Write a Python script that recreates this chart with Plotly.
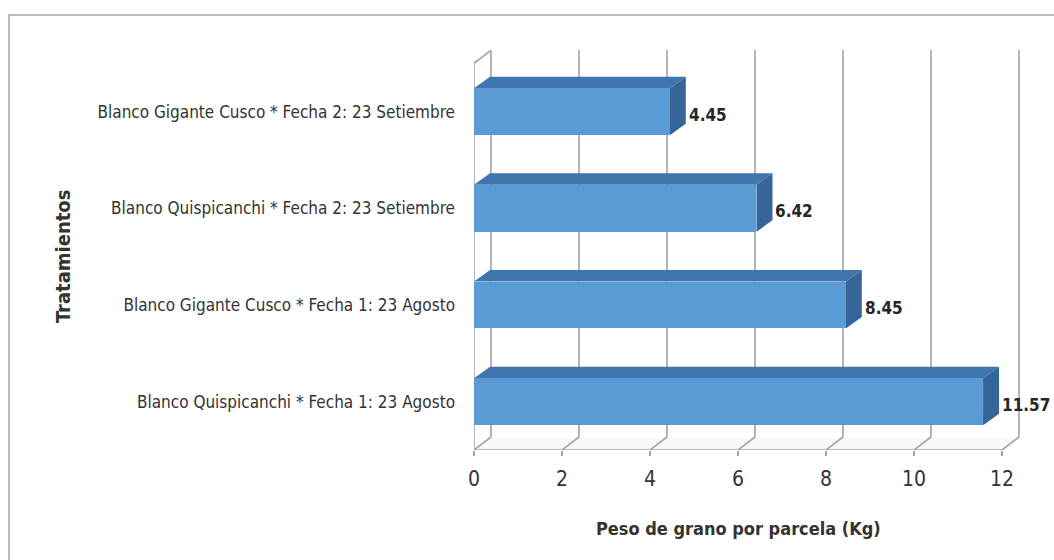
import plotly.graph_objects as go

# Treatments, bottom to top as drawn
tratamientos = [
    "Blanco Quispicanchi * Fecha 1: 23 Agosto",
    "Blanco Gigante Cusco * Fecha 1: 23 Agosto",
    "Blanco Quispicanchi * Fecha 2: 23 Setiembre",
    "Blanco Gigante Cusco * Fecha 2: 23 Setiembre",
]
peso = [11.57, 8.45, 6.42, 4.45]
x_ticks = [0, 2, 4, 6, 8, 10, 12]

# Geometry of the pseudo-3D box (in data units)
W, H = 1054, 560
M_L, M_R, M_T, M_B = 474, 30, 44, 110
X_RANGE = [0, 12.5]
Y_RANGE = [-0.5, 3.7]
PLOT_W = W - M_L - M_R
PLOT_H = H - M_T - M_B
px_x = PLOT_W / (X_RANGE[1] - X_RANGE[0])
px_y = PLOT_H / (Y_RANGE[1] - Y_RANGE[0])
WALL_DX, WALL_DY = 17 / px_x, 13 / px_y
BAR_DX, BAR_DY = 16 / px_x, 11.5 / px_y
HALF = 0.243
Y_LO, Y_HI = -0.5, 3.5

FRONT = "#5B9BD5"
TOP = "#3F76AD"
SIDE = "#34669A"
GRID = "#a3a3a3"
TEXT = "#333333"
FONT = "Liberation Sans Narrow, Arial Narrow, DejaVu Sans Condensed, sans-serif"

shapes = []

def seg(x0, y0, x1, y1, color=GRID, width=1.6):
    shapes.append(dict(type="line", xref="x", yref="y", x0=x0, y0=y0, x1=x1, y1=y1,
                       line=dict(color=color, width=width), layer="below"))

def poly(points, fill):
    path = "M " + " L ".join(f"{px},{py}" for px, py in points) + " Z"
    shapes.append(dict(type="path", xref="x", yref="y", path=path, fillcolor=fill,
                       line=dict(width=0), layer="below"))

# floor
poly([(0, Y_LO), (x_ticks[-1], Y_LO), (x_ticks[-1] + WALL_DX, Y_LO + WALL_DY), (WALL_DX, Y_LO + WALL_DY)],
     "#f9f9f9")
# back wall grid lines and floor slants
for t in x_ticks:
    seg(t, Y_LO, t + WALL_DX, Y_LO + WALL_DY)
    seg(t + WALL_DX, Y_LO + WALL_DY, t + WALL_DX, Y_HI + WALL_DY)
# front floor edge and left wall edges
seg(0, Y_LO, x_ticks[-1], Y_LO)
seg(0, Y_LO, 0, Y_HI)
seg(0, Y_HI, WALL_DX, Y_HI + WALL_DY)

# bar top and side faces
for k, v in enumerate(peso):
    top = k + HALF
    bot = k - HALF
    poly([(0, top), (v, top), (v + BAR_DX, top + BAR_DY), (BAR_DX, top + BAR_DY)], TOP)
    poly([(v, bot), (v, top), (v + BAR_DX, top + BAR_DY), (v + BAR_DX, bot + BAR_DY)], SIDE)

# outer chart border
shapes.append(dict(type="rect", xref="paper", yref="paper",
                   x0=(9 - M_L) / PLOT_W, x1=1.2,
                   y0=-0.5, y1=(H - M_B - 15) / PLOT_H,
                   line=dict(color="#a6a6a6", width=1.5), fillcolor="rgba(0,0,0,0)"))

fig = go.Figure()
fig.add_trace(go.Bar(
    x=peso, y=list(range(len(peso))), orientation="h", width=2 * HALF,
    marker=dict(color=FRONT, line=dict(width=0)), hoverinfo="skip",
))

annotations = []
for k, v in enumerate(peso):
    annotations.append(dict(x=v + BAR_DX, y=k - 3 / px_y, xref="x", yref="y",
                            text=f"<b>{v:.2f}</b>", showarrow=False, xanchor="left",
                            yanchor="middle", xshift=1,
                            font=dict(family=FONT, size=17, color="#262626")))

# axis titles
annotations.append(dict(x=x_ticks[-1] / 2, y=(M_T + PLOT_H - 528) / PLOT_H, xref="x", yref="paper",
                        text="<b>Peso de grano por parcela (Kg)</b>", showarrow=False,
                        xanchor="center", yanchor="middle",
                        font=dict(family=FONT, size=18, color=TEXT)))
annotations.append(dict(x=(63 - M_L) / PLOT_W, y=(M_T + PLOT_H - 257) / PLOT_H, xref="paper", yref="paper",
                        text="<b>Tratamientos</b>", showarrow=False, textangle=-90,
                        xanchor="center", yanchor="middle",
                        font=dict(family=FONT, size=20, color=TEXT)))

fig.update_layout(
    width=W, height=H,
    margin=dict(l=M_L, r=M_R, t=M_T, b=M_B),
    paper_bgcolor="white", plot_bgcolor="white",
    showlegend=False, bargap=0,
    shapes=shapes, annotations=annotations,
    xaxis=dict(range=X_RANGE, tickvals=x_ticks, ticktext=[str(t) for t in x_ticks],
               showgrid=False, zeroline=False, showline=False,
               ticks="outside", ticklen=5, tickcolor=GRID, tickwidth=1.5,
               ticklabelstandoff=5,
               tickfont=dict(family=FONT, size=21, color=TEXT)),
    yaxis=dict(range=Y_RANGE, tickvals=list(range(len(tratamientos))), ticktext=tratamientos,
               showgrid=False, zeroline=False, showline=False, ticks="",
               ticklabelstandoff=18,
               tickfont=dict(family=FONT, size=17, color=TEXT)),
)

fig.write_html("out.html")
